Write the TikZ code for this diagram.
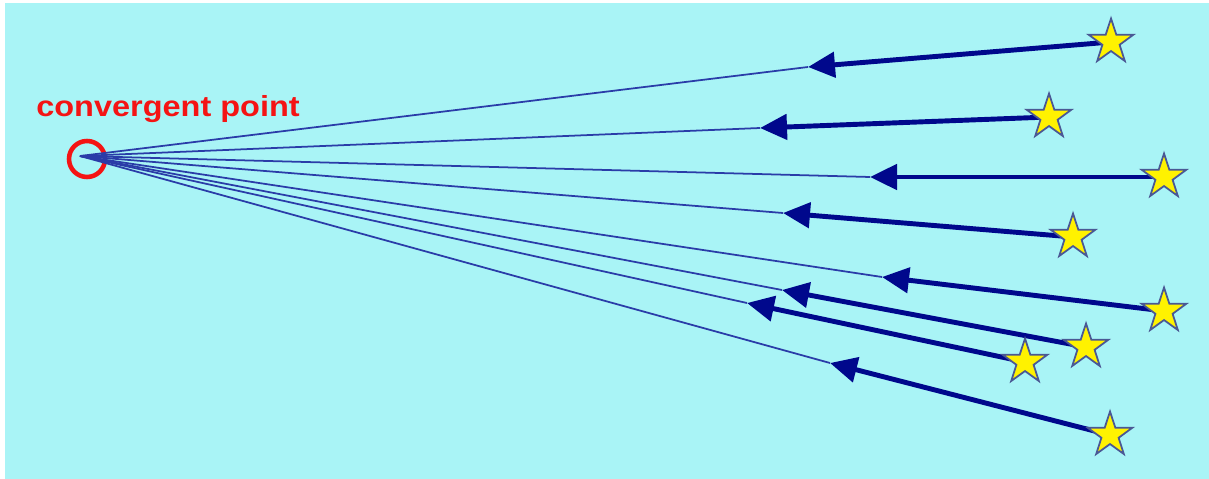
\documentclass[tikz,border=0pt]{standalone}
\usepackage{fontspec}
\setsansfont{Liberation Sans}
\newfontfamily\lblfont[FakeStretch=1.12]{Liberation Sans}
\usetikzlibrary{arrows.meta, shapes.geometric}
\definecolor{cbg}{HTML}{A9F4F6}
\definecolor{cnavy}{HTML}{00088C}
\definecolor{cthin}{HTML}{2A3CA8}
\definecolor{cstar}{HTML}{FFF200}
\definecolor{cedge}{HTML}{4A5894}
\definecolor{cred}{HTML}{F41414}
\tikzset{
  every picture/.style={font=\sffamily},
  ray/.style={draw=cnavy, line width=2.8pt, -{Triangle[length=0.54cm, width=0.5cm]}},
  thinray/.style={draw=cthin, line width=1pt},
  starnode/.style={star, star points=5, star point ratio=2.6, fill=cstar, draw=cedge,
    line width=1pt, minimum size=0.94cm, inner sep=0pt},
}

\begin{document}
\begin{tikzpicture}[x=0.02cm, y=-0.02cm,
  ring/.style={circle, draw=cred, line width=2.6pt, minimum size=0.72cm, inner sep=0pt},
  label/.style={text=cred, font=\lblfont\bfseries\fontsize{16.5}{18}\selectfont, inner sep=0pt}]
  \useasboundingbox (0,0) rectangle (1209,479);
  \fill[cbg] (5,3) rectangle (1209,479);
  % convergent point
  \coordinate (vp) at (80,156);
  \node[ring] (cp) at (87,159) {};
  \node[label, anchor=base west] (lbl) at (36,117) {convergent point};
  % stars, with their arrows running to the convergent point
  \foreach \i/\sx/\sy/\tx/\ty in {1/1111/42/808/67, 2/1049/117/760/128, 3/1164/177/870/177,
      4/1073/237/783/213, 5/1164/311/882/277, 6/1086/347/782/290,
      7/1025/362/747/303, 8/1110/435/830/363} {
    \coordinate (p\i) at (\sx,\sy);
    \coordinate (t\i) at (\tx,\ty);
    \draw[thinray] (t\i) -- (vp);
    \draw[ray] (p\i) -- (t\i);
    \node[starnode] (s\i) at (p\i) {};
  }
\end{tikzpicture}
\end{document}
